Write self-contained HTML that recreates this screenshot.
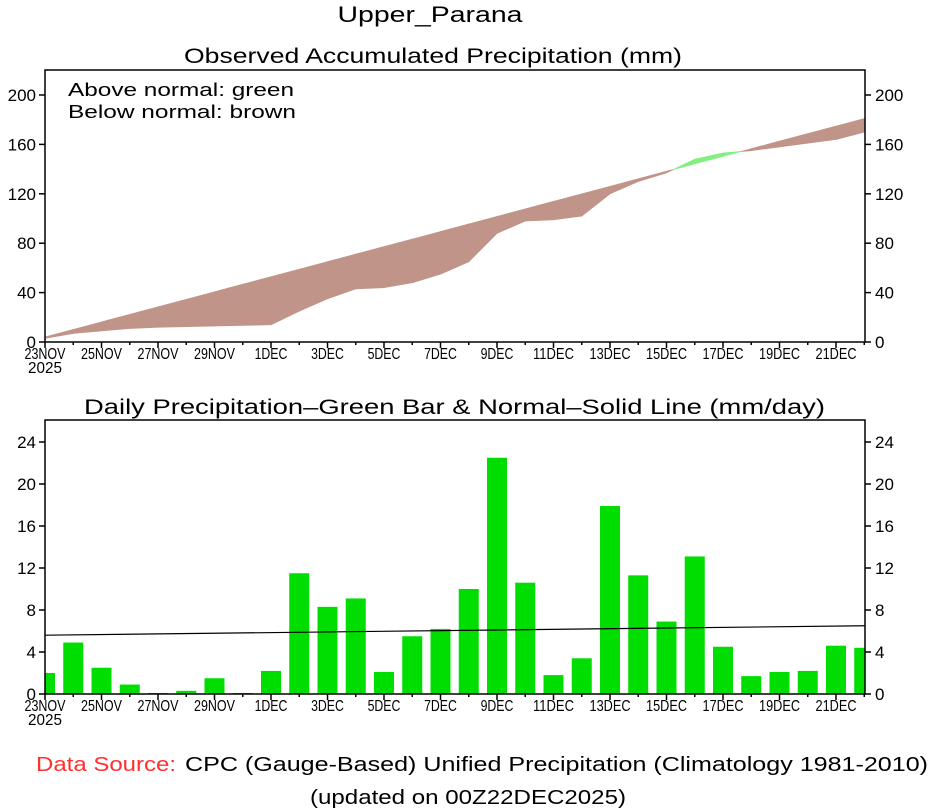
<!DOCTYPE html>
<html><head><meta charset="utf-8"><style>
body{margin:0;background:#fff;width:934px;height:809px;overflow:hidden}
svg{display:block}
text{font-family:"Liberation Sans",sans-serif;fill:#000}
</style></head><body>
<svg id="s" width="934" height="809" xmlns="http://www.w3.org/2000/svg"></svg>
<script>
const S=document.getElementById('s');let h='';
const bars=[2.0,4.9,2.5,0.9,0.1,0.3,1.5,0.1,2.2,11.5,8.3,9.1,2.1,5.5,6.2,10.0,22.5,10.6,1.8,3.4,17.9,11.3,6.9,13.1,4.5,1.7,2.1,2.2,4.6,4.4];
const L=45,R=865,dx=28.25;const X=i=>L+i*dx;
const nrm=i=>5.6+0.9*i/29;
const obs=[3,7,9,11,12,12.5,13,13.5,14,25,35,43,44,48,55,65,88,98,99,102,120,130,137,148,153,155,158,161,164,170];
let nor=[];for(let i=0;i<30;i++)nor.push(4+6.1*i);
const Y1=v=>342-v*1.235, Y2=v=>694-v*10.5;
for(let i=0;i<29;i++){
 const x0=X(i),x1=Math.min(X(i+1),R);
 const d0=obs[i]-nor[i],d1=obs[i+1]-nor[i+1];
 const seg=(xa,oa,na,xb,ob,nb)=>{const g=(oa-na+ob-nb)>0;const c=g?'#80F080':'#C09488';h+=`<polygon points="${xa},${Y1(oa)} ${xb},${Y1(ob)} ${xb},${Y1(nb)} ${xa},${Y1(na)}" fill="${c}" stroke="${c}" stroke-width="0.8"/>`;};
 if(d0*d1<0){const t=d0/(d0-d1);const xm=x0+(x1-x0)*t,om=obs[i]+(obs[i+1]-obs[i])*t;seg(x0,obs[i],nor[i],xm,om,om);seg(xm,om,om,x1,obs[i+1],nor[i+1]);}
 else seg(x0,obs[i],nor[i],x1,obs[i+1],nor[i+1]);
}
for(let i=0;i<30;i++){let xa=X(i)-10,xb=X(i)+10;xa=Math.max(xa,L);xb=Math.min(xb,R);h+=`<rect x="${xa}" y="${Y2(bars[i])}" width="${xb-xa}" height="${bars[i]*10.5}" fill="#00DD00"/>`;}
h+=`<line x1="${L}" y1="${Y2(nrm(0))}" x2="${R}" y2="${Y2(nrm(29))}" stroke="#000" stroke-width="1.2"/>`;
function frame(top,bot,Yf,ticks){
 h+=`<rect x="${L}" y="${top}" width="${R-L}" height="${bot-top}" fill="none" stroke="#000" stroke-width="1.5"/>`;
 for(const t of ticks){const y=Yf(t);h+=`<line x1="${L-6}" y1="${y}" x2="${L}" y2="${y}" stroke="#000" stroke-width="1.5"/><line x1="${R}" y1="${y}" x2="${R+6}" y2="${y}" stroke="#000" stroke-width="1.5"/><text x="${L-9}" y="${y+6}" font-size="17" text-anchor="end">${t}</text><text x="${R+10}" y="${y+6}" font-size="17">${t}</text>`;}
 const lab=['23NOV','25NOV','27NOV','29NOV','1DEC','3DEC','5DEC','7DEC','9DEC','11DEC','13DEC','15DEC','17DEC','19DEC','21DEC'];
 for(let i=0;i<30;i++){const x=X(i);if(x>R)break;h+=`<line x1="${x}" y1="${bot}" x2="${x}" y2="${bot+(i%2==0?6:3)}" stroke="#000" stroke-width="1.5"/>`;if(i%2==0)h+=`<text x="${x}" y="${bot+17}" font-size="16" text-anchor="middle" textLength="${lab[i/2].length*8.2}" lengthAdjust="spacingAndGlyphs">${lab[i/2]}</text>`;}
 h+=`<text x="${L}" y="${bot+31}" font-size="16" text-anchor="middle" textLength="34" lengthAdjust="spacingAndGlyphs">2025</text>`;
}
frame(70,342,Y1,[0,40,80,120,160,200]);
frame(420,694,Y2,[0,4,8,12,16,20,24]);
h+=`<text x="430" y="22" font-size="22" text-anchor="middle" textLength="185" lengthAdjust="spacingAndGlyphs">Upper_Parana</text>`;
const T=(x,y,fs,len,s,extra='')=>h+=`<text x="${x}" y="${y}" font-size="${fs}" textLength="${len}" lengthAdjust="spacingAndGlyphs" ${extra}>${s}</text>`;
T(184,63,21,498,'Observed Accumulated Precipitation (mm)');
T(68,96,18,226,'Above normal: green');
T(68,118,18,228,'Below normal: brown');
T(84,414,21,741,'Daily Precipitation–Green Bar &amp; Normal–Solid Line (mm/day)');
T(36,771,20,140,'Data Source:','style="fill:#FF3030"');
T(185,771,20,743,'CPC (Gauge-Based) Unified Precipitation (Climatology 1981-2010)');
T(310,804,20,316,'(updated on 00Z22DEC2025)');
S.innerHTML=h;
</script>
</body></html>
